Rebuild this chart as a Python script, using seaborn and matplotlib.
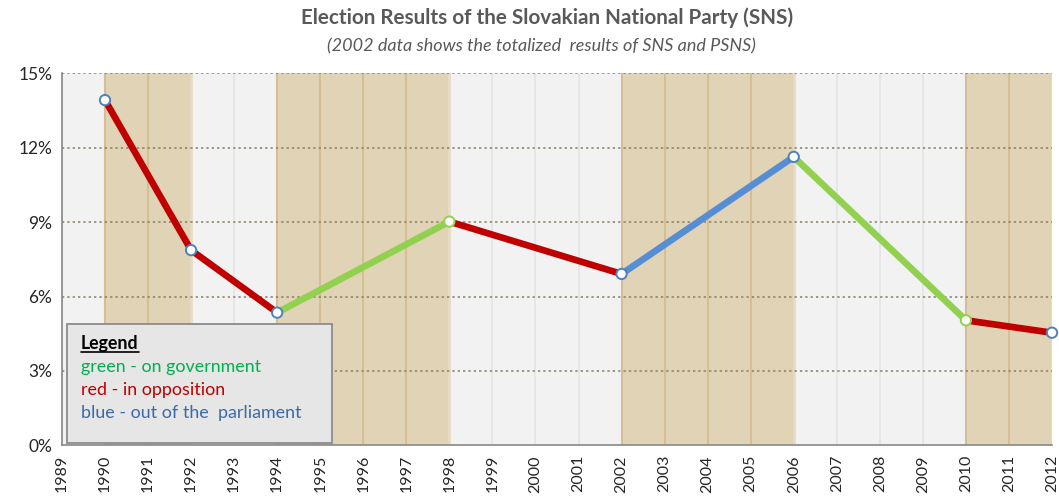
import numpy as np
import pandas as pd
import seaborn as sns
import matplotlib.pyplot as plt

# election results of SNS (%)
years = [1990, 1992, 1994, 1998, 2002, 2006, 2010, 2012]
votes = [13.92, 7.87, 5.35, 9.02, 6.91, 11.63, 5.04, 4.54]
# status for the period after each election
status = ["red", "red", "green", "red", "blue", "green", "red"]
marker_edge = ["blue", "blue", "blue", "green", "blue", "blue", "green", "blue"]
# shaded periods
bands = [(1990, 1992), (1994, 1998), (2002, 2006), (2010, 2012)]
year_ticks = list(range(1989, 2013))
pct_ticks = [0, 3, 6, 9, 12, 15]

legend_lines = ["green - on government", "red - in opposition", "blue - out of the  parliament"]
legend_colors = ["#00b050", "#c00000", "#3c6aa6"]

line_colors = {"red": "#c00000", "green": "#92d050", "blue": "#558ed5"}

sns.set_style("white")
plt.rcParams['font.family'] = ['Lato', 'DejaVu Sans']

fig = plt.figure(figsize=(10.59, 4.96), dpi=100)
ax = fig.add_axes([0.0585, 0.1022, 0.9349, 0.7500])
ax.set_facecolor("#f2f2f2")

# background bands + vertical grid
for y in year_ticks:
    ax.axvline(y, color="#e4e4e4", lw=1.2, zorder=0)
for a, b in bands:
    ax.axvspan(a, b, color="#e1d3b5", lw=0, zorder=0.5)
    for y in range(a, b + 1):
        ax.axvline(y, color="#d4bf94", lw=1.5, zorder=0.6)
    ax.axvline(b, color="#e6ddc9", lw=2, zorder=0.6)

for p in pct_ticks[1:]:
    ax.axhline(p, color="#8a7d63", lw=1.1, ls=(0, (1.5, 2)), zorder=1)

df = pd.DataFrame({"year": years, "votes": votes})
for i, st in enumerate(status):
    seg = df.iloc[i:i + 2]
    sns.lineplot(data=seg, x="year", y="votes", color=line_colors[st], lw=4.8,
                 solid_capstyle="butt", ax=ax, zorder=3)

edge_map = {"blue": "#4f81bd", "green": "#92d050"}
ax.scatter(years, votes, s=55, facecolor="white",
           edgecolors=[edge_map[c] for c in marker_edge], linewidths=1.4, zorder=4, clip_on=False)

ax.set_xlim(1989, 2012)
ax.set_ylim(0, 15)
ax.set_xticks(year_ticks)
ax.set_xticklabels([str(y) for y in year_ticks], rotation=90, fontsize=11.5)
ax.set_yticks(pct_ticks)
ax.set_yticklabels([f"{p}%" for p in pct_ticks], fontsize=12.5)
ax.set_xlabel("")
ax.set_ylabel("")
for s in ["top", "right"]:
    ax.spines[s].set_visible(False)
for s in ["left", "bottom"]:
    ax.spines[s].set_color("#888888")
    ax.spines[s].set_linewidth(1.2)
ax.tick_params(axis="both", direction="out", length=5, width=1.2, color="#888888", pad=2)

# legend box
box = plt.Rectangle((67 / 1059, 1 - 443 / 496), 265 / 1059, 119 / 496, transform=fig.transFigure,
                    facecolor="#e6e6e6", edgecolor="#8c8c8c", lw=1.3, zorder=5)
fig.patches.append(box)
fig.text(81 / 1059, 1 - 344 / 496, "Legend", fontsize=12.8, fontweight="bold", color="black",
         va="center", zorder=6)
fig.add_artist(plt.Line2D([81 / 1059, 139 / 1059], [1 - 352 / 496, 1 - 352 / 496],
                          transform=fig.transFigure, color="black", lw=1.2, zorder=6))
for k, (t, c) in enumerate(zip(legend_lines, legend_colors)):
    fig.text(81 / 1059, 1 - (367 + 23 * k) / 496, t, fontsize=12.9, color=c, va="center", zorder=6)

fig.text(0.5165, 1 - 18 / 496, "Election Results of the Slovakian National Party (SNS)",
         ha="center", va="center", fontsize=14.9, fontweight="bold", color="#595959")
fig.text(0.511, 1 - 46 / 496, "(2002 data shows the totalized  results of SNS and PSNS)",
         ha="center", va="center", fontsize=13, style="italic", color="#595959")

fig.savefig("out.png", dpi=100)
